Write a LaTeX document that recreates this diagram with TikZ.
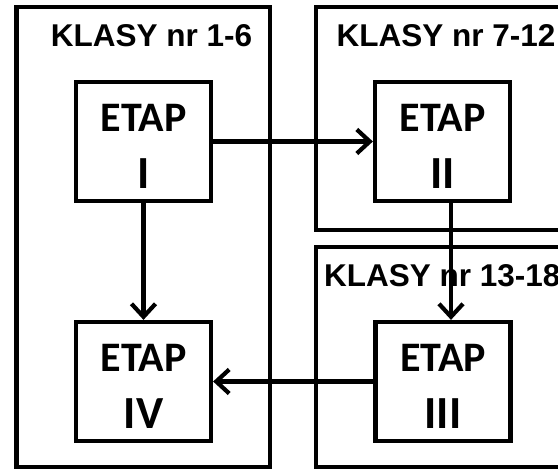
\documentclass[tikz,border=0pt]{standalone}
\usepackage{fontspec}
\setmainfont{Liberation Sans}
\newfontfamily\etapfam{Carlito}
\usetikzlibrary{arrows.meta}
\tikzset{
  group/.style={draw=black, line width=4.2pt},
  stagebox/.style={draw=black, line width=4.2pt, minimum width=135pt, minimum height=119pt, inner sep=0pt, fill=none},
  grouptitle/.style={font=\fontsize{31.5}{31.5}\selectfont\bfseries, inner sep=0pt},
  etaptxt/.style={font=\etapfam\fontsize{42}{42}\selectfont\bfseries, inner sep=0pt, anchor=base},
  numtxt/.style={font=\etapfam\fontsize{46}{46}\selectfont\bfseries, inner sep=0pt, anchor=base},
  flow/.style={line width=4.2pt, -{Straight Barb[length=13pt,width=24pt,line width=4.2pt]}},
}
\begin{document}
\begin{tikzpicture}[x=1pt,y=1pt]
\useasboundingbox (0,0) rectangle (558,473);
\clip (0,0) rectangle (558,473);
\fill[white] (0,0) rectangle (558,473);
% group frames
\draw[group] (16.5,6) rectangle (270,466);
\draw[group] (316,243) rectangle (600,466);
\draw[group] (316,6) rectangle (600,226);
% group titles
\node[grouptitle, anchor=base] (g1) at (151.5,426.3) {KLASY nr 1-6};
\node[grouptitle, anchor=base] (g2) at (446,426.3) {KLASY nr 7-12};
\node[grouptitle, anchor=base west] (g3) at (324,186) {KLASY nr 13-18};
% stages
\node[stagebox] (I) at (143.5,331.5) {};
\node[stagebox] (II) at (442.5,331.5) {};
\node[stagebox] (III) at (443,91.5) {};
\node[stagebox] (IV) at (143.5,91.5) {};
\foreach \n/\t in {I/I, II/II, III/III, IV/IV}{
  \node[etaptxt] (\n e) at ([yshift=9.8pt]\n.center) {ETAP};
  \node[numtxt] (\n n) at ([yshift=-47.5pt]\n.center) {\t};
}
% connectors
\draw[flow] (I.east) -- (II.west);
\draw[flow] ([xshift=8.5pt]II.south) -- ([xshift=8pt]III.north);
\draw[flow] (III.west) -- (IV.east);
\draw[flow] (I.south) -- (IV.north);
\end{tikzpicture}
\end{document}
